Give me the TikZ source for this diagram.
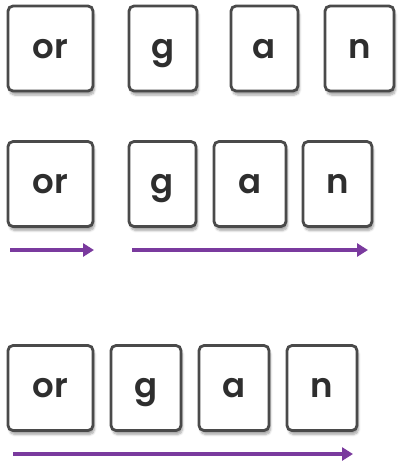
\documentclass[tikz,border=0pt]{standalone}
\usepackage{fontspec}
\setmainfont{Poppins}[BoldFont={Poppins SemiBold}]
\usetikzlibrary{shadows.blur,arrows.meta}
\definecolor{tileline}{HTML}{4A4A4A}
\definecolor{tiletext}{HTML}{2E2E2E}
\definecolor{arrowpurple}{HTML}{7A3A9E}
\tikzset{
  tile/.style={draw=tileline, line width=2.8pt, rounded corners=5pt, fill=white,
    minimum height=85pt, inner sep=0pt, text height=19pt, text depth=0pt,
    text=tiletext, font=\fontsize{34}{34}\selectfont\bfseries,
    blur shadow={shadow xshift=1.5pt, shadow yshift=-4pt, shadow blur steps=6, shadow opacity=35}},
  purplearrow/.style={draw=arrowpurple, line width=4pt, -{Triangle[length=11pt,width=13pt]}}
}
\begin{document}
\begin{tikzpicture}[x=1pt,y=-1pt]
\useasboundingbox (0,0) rectangle (399,464);
% row 1
\node[tile, minimum width=85pt] (r1or) at (50.5,48.5) {or};
\node[tile, minimum width=68pt] (r1g) at (163,48.5) {g};
\node[tile, minimum width=67pt] (r1a) at (264.5,48.5) {a};
\node[tile, minimum width=69pt] (r1n) at (359.5,48.5) {n};
% row 2
\node[tile, minimum width=85pt] (r2or) at (50.5,184) {or};
\node[tile, minimum width=67pt] (r2g) at (162.5,184) {g};
\node[tile, minimum width=72pt] (r2a) at (250,184) {a};
\node[tile, minimum width=69pt] (r2n) at (337.5,184) {n};
\coordinate (a1s) at (10,250);
\coordinate (a1e) at (94,250);
\coordinate (a2s) at (132,250);
\coordinate (a2e) at (368,250);
\draw[purplearrow] (a1s) -- (a1e);
\draw[purplearrow] (a2s) -- (a2e);
% row 3
\node[tile, minimum width=85pt] (r3or) at (50.5,388) {or};
\node[tile, minimum width=70pt] (r3g) at (146,388) {g};
\node[tile, minimum width=70pt] (r3a) at (234,388) {a};
\node[tile, minimum width=70pt] (r3n) at (322,388) {n};
\coordinate (a3s) at (13,454);
\coordinate (a3e) at (353,454);
\draw[purplearrow] (a3s) -- (a3e);
\end{tikzpicture}
\end{document}
